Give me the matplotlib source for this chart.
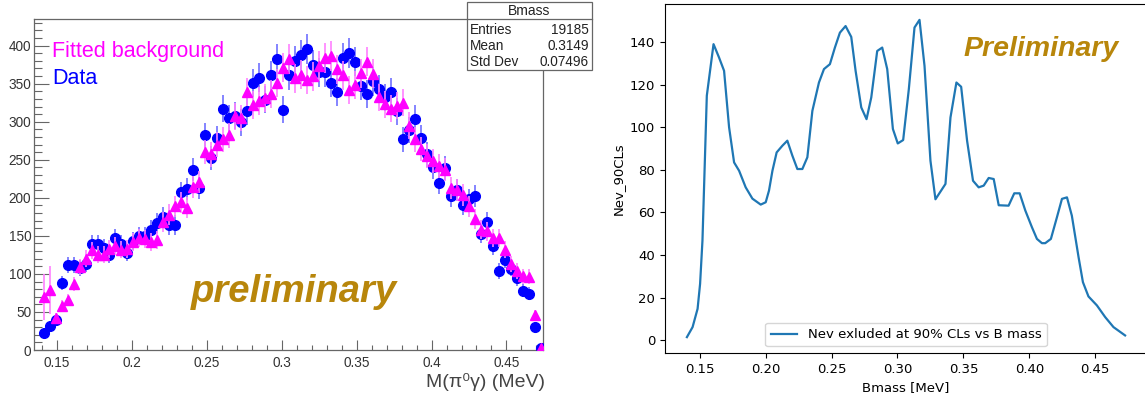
import matplotlib
matplotlib.use("Agg")
import matplotlib.pyplot as plt
import numpy as np
from matplotlib.patches import Rectangle
from matplotlib.lines import Line2D
from matplotlib.ticker import MultipleLocator

# ---- left panel: ROOT-style histogram (bin centres, width 0.004) ----
bin_start = 0.141
bin_width = 0.004
data_counts = [22, 31, 39, 88, 112, 112, 108, 113, 139, 139,
               134, 125, 147, 139, 128, 143, 150, 150, 158, 167,
               175, 164, 164, 207, 211, 237, 213, 282, 252, 278,
               317, 305, 308, 299, 314, 351, 358, 329, 361, 382,
               316, 361, 380, 388, 396, 375, 365, 365, 351, 339,
               384, 390, 379, 347, 336, 353, 343, 332, 339, 314,
               277, 289, 304, 279, 257, 240, 220, 239, 202, 210,
               191, 198, 202, 153, 168, 137, 104, 118, 107, 94,
               78, 74, 30, 2]
bkg_counts = [70, 79, 42, 58, 66, 87, 109, 120, 131, 125,
              125, 133, 137, 132, 133, 142, 147, 146, 142, 145,
              168, 178, 189, 194, 187, 214, 221, 260, 257, 270,
              277, 282, 307, 305, 339, 322, 327, 331, 336, 351,
              371, 382, 357, 362, 355, 360, 373, 384, 386, 369,
              361, 342, 348, 364, 379, 363, 332, 323, 317, 321,
              325, 295, 277, 264, 255, 248, 242, 237, 213, 210,
              204, 189, 172, 158, 156, 147, 147, 132, 113, 104,
              97, 96, 46, 3]
bkg_err_first = [30, 32]

stats_rows = [("Entries", "19185"), ("Mean", "0.3149"), ("Std Dev", "0.07496")]

# ---- right panel: excluded events vs mass ----
mass = [0.1402, 0.1445, 0.1483, 0.1502, 0.1520, 0.1553, 0.1604, 0.1646, 0.1684, 0.1722,
        0.1760, 0.1798, 0.1848, 0.1899, 0.1962, 0.2000, 0.2025, 0.2051, 0.2083, 0.2126,
        0.2164, 0.2202, 0.2240, 0.2278, 0.2316, 0.2354, 0.2404, 0.2442, 0.2487, 0.2525,
        0.2563, 0.2606, 0.2649, 0.2682, 0.2725, 0.2765, 0.2801, 0.2846, 0.2884, 0.2922,
        0.2965, 0.3002, 0.3043, 0.3086, 0.3129, 0.3167, 0.3205, 0.3250, 0.3288, 0.3364,
        0.3402, 0.3447, 0.3483, 0.3528, 0.3573, 0.3616, 0.3654, 0.3692, 0.3730, 0.3768,
        0.3843, 0.3886, 0.3927, 0.3970, 0.4020, 0.4058, 0.4096, 0.4121, 0.4164, 0.4210,
        0.4248, 0.4286, 0.4323, 0.4374, 0.4407, 0.4449, 0.4513, 0.4576, 0.4639, 0.4727]
nev = [1.5, 6.2, 14.8, 26.5, 46.8, 114.8, 139.0, 132.7, 126.5, 100.0,
       83.5, 79.6, 71.8, 66.5, 63.7, 64.8, 70.3, 79.6, 88.2, 91.3,
       93.7, 86.7, 80.4, 80.4, 85.9, 107.7, 121.0, 127.3, 129.6, 137.4,
       144.4, 147.5, 142.4, 126.5, 109.3, 103.8, 114.0, 135.8, 137.4, 127.3,
       99.2, 92.4, 94.0, 117.9, 146.8, 150.4, 128.8, 84.3, 66.2, 73.4,
       104.6, 121.0, 119.0, 93.7, 74.9, 71.8, 72.6, 76.2, 75.7, 63.4,
       63.2, 69.0, 69.0, 60.9, 53.1, 47.6, 45.6, 45.6, 47.6, 57.8,
       66.4, 67.1, 58.5, 39.0, 27.3, 20.6, 16.4, 10.9, 6.2, 2.3]

W, H = 1145, 400
fig = plt.figure(figsize=(W / 100, H / 100), dpi=100)

root_font = ["Liberation Sans", "DejaVu Sans"]
gold = "#b8860b"

# ---------------- left ----------------
ax1 = fig.add_axes([34 / W, 50 / H, 509 / W, 331 / H])
centers = bin_start + bin_width * np.arange(len(data_counts))
data = np.array(data_counts, dtype=float)
bkg = np.array(bkg_counts, dtype=float)
data_err = np.sqrt(data)
bkg_err = np.sqrt(bkg)
bkg_err[:len(bkg_err_first)] = bkg_err_first

ax1.errorbar(centers, data, yerr=data_err, fmt="o", color="#0000ff", ms=7,
             ecolor="#7070ff", elinewidth=1.2, capsize=0, zorder=3)
ax1.errorbar(centers, bkg, yerr=bkg_err, fmt="^", color="#ff00ff", ms=7,
             ecolor="#ff80ff", elinewidth=1.2, capsize=0, zorder=4)

ax1.set_xlim(0.1346, 0.4744)
ax1.set_ylim(0, 435)
ax1.xaxis.set_major_locator(MultipleLocator(0.05))
ax1.xaxis.set_minor_locator(MultipleLocator(0.01))
ax1.yaxis.set_major_locator(MultipleLocator(50))
ax1.yaxis.set_minor_locator(MultipleLocator(10))
ax1.tick_params(axis="y", which="major", direction="in", length=10.8, width=0.8,
                color="#666666", labelsize=9.8, labelcolor="#333333", pad=2)
ax1.tick_params(axis="y", which="minor", direction="in", length=5.4, width=0.8, color="#666666")
ax1.tick_params(axis="x", which="major", direction="in", length=7.2, width=0.8,
                color="#666666", labelsize=9.8, labelcolor="#333333", pad=4)
ax1.tick_params(axis="x", which="minor", direction="in", length=3.6, width=0.8, color="#666666")
ax1.xaxis.set_major_formatter(plt.FuncFormatter(lambda v, p: f"{v:g}"))
for lab in ax1.get_xticklabels() + ax1.get_yticklabels():
    lab.set_family(root_font)
for s in ax1.spines.values():
    s.set_color("#666666")
    s.set_linewidth(0.9)

ax1.text((52 - 34) / 509, 1 - (52 - 19) / 331, "Fitted background", transform=ax1.transAxes,
         color="#ff00ff", fontsize=15.5, family=root_font, va="center", ha="left")
ax1.text((52 - 34) / 509, 1 - (78 - 19) / 331, "Data", transform=ax1.transAxes,
         color="#0000ff", fontsize=15.5, family=root_font, va="center", ha="left")
ax1.text((294 - 34) / 509, 1 - (292 - 19) / 331, "preliminary", transform=ax1.transAxes,
         color=gold, fontsize=27.5, fontweight="bold", fontstyle="italic",
         family=root_font, va="center", ha="center")
fig.text(545 / W, 1 - 382 / H, "M(π⁰γ) (MeV)", ha="right", va="center",
         fontsize=14, color="#444444", family=root_font)

# stats box
bx0, bx1, by0, by1, bsep = 467, 592, 2, 70, 19
fig.add_artist(Rectangle((bx0 / W, 1 - by1 / H), (bx1 - bx0) / W, (by1 - by0) / H,
                         transform=fig.transFigure, facecolor="white",
                         edgecolor="#666666", linewidth=0.9, zorder=5))
fig.add_artist(Line2D([bx0 / W, bx1 / W], [1 - bsep / H, 1 - bsep / H],
                      transform=fig.transFigure, color="#666666", linewidth=0.9, zorder=6))
fig.text((bx0 + bx1) / 2 / W, 1 - 11 / H, "Bmass", ha="center", va="center",
         fontsize=10, family=root_font, color="#222222", zorder=7)
for k, (name, val) in enumerate(stats_rows):
    yy = 1 - (30 + 16 * k) / H
    fig.text((bx0 + 3) / W, yy, name, ha="left", va="center", fontsize=9.8,
             family=root_font, color="#222222", zorder=7)
    fig.text((bx1 - 3) / W, yy, val, ha="right", va="center", fontsize=9.8,
             family=root_font, color="#222222", zorder=7)

# ---------------- right ----------------
ax2 = fig.add_axes([665 / W, 47 / H, 482 / W, 349 / H])
ax2.plot(mass, nev, color="#1f77b4", linewidth=1.6,
         label="Nev exluded at 90% CLs vs B mass")
ax2.set_xlabel("Bmass [MeV]", fontsize=9.5)
ax2.set_ylabel("Nev_90CLs", fontsize=9.5)
ax2.tick_params(labelsize=9.5)
ax2.xaxis.set_major_formatter(plt.FuncFormatter(lambda v, p: f"{v:.2f}"))
ax2.legend(loc="lower center", fontsize=9.5)
ax2.text(0.78, 0.87, "Preliminary", transform=ax2.transAxes, color=gold,
         fontsize=20.5, fontweight="bold", fontstyle="italic", family=root_font,
         ha="center", va="center")

fig.savefig("out.png", dpi=100)
